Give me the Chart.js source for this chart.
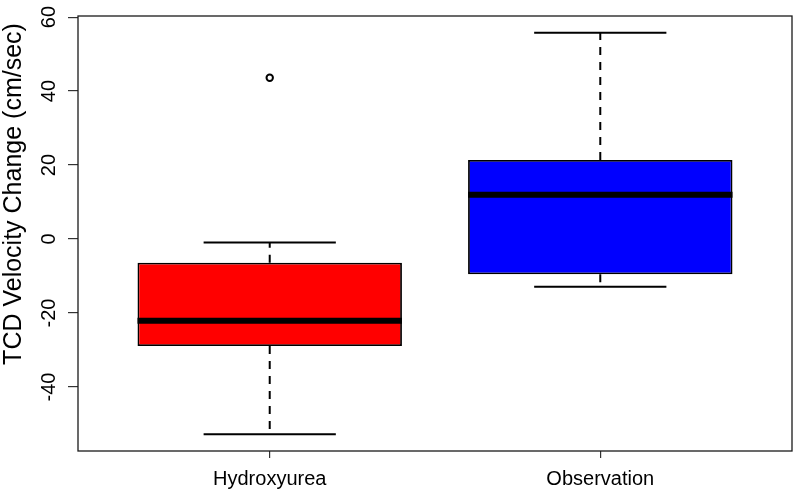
<!DOCTYPE html>
<html>
<head>
<meta charset="utf-8">
<script src="https://cdn.jsdelivr.net/npm/chart.js@4"></script>
<style>
  html, body { margin: 0; padding: 0; background: #fff; }
  #wrap { width: 800px; height: 499px; position: relative; }
</style>
</head>
<body>
<div id="wrap"><canvas id="boxChart"></canvas></div>
<script>
// box statistics
const groups = ['Hydroxyurea', 'Observation'];
const groupPos = [1, 2];
const whiskerLow = [-52.8, -12.9];
const q1 = [-28.9, -9.5];
const median = [-22.1, 12.0];
const q3 = [-6.4, 21.4];
const whiskerHigh = [-0.9, 55.8];
const boxColors = ['#ff0000', '#0000ff'];

const outlierGroup = [1];
const outlierValue = [43.6];

const yTicks = [-40, -20, 0, 20, 40, 60];
const yMin = -57.3, yMax = 60.3;
const xMin = 0.42, xMax = 2.58;
const yTitle = 'TCD Velocity Change (cm/sec)';

const FONT = '"Liberation Sans", Arial, Helvetica, sans-serif';
const capHalf = 0.2, boxHalf = 0.4;

// segments separated by null so one line dataset holds several pieces
function segments(list) {
    const out = [];
    list.forEach(([x0, y0, x1, y1]) => {
        out.push({x: x0, y: y0}, {x: x1, y: y1}, {x: x1, y: null});
    });
    return out;
}

const whiskerData = segments(groupPos.flatMap((g, i) => [
    [g, q3[i], g, whiskerHigh[i]],
    [g, q1[i], g, whiskerLow[i]]
]));
const capData = segments(groupPos.flatMap((g, i) => [
    [g - capHalf, whiskerHigh[i], g + capHalf, whiskerHigh[i]],
    [g - capHalf, whiskerLow[i], g + capHalf, whiskerLow[i]]
]));
const medianData = segments(groupPos.map((g, i) =>
    [g - boxHalf, median[i], g + boxHalf, median[i]]));

// plot frame and rotated y title, like R's box() and ylab
const framePlugin = {
    id: 'frame',
    afterDraw(chart) {
        const {ctx, chartArea: a} = chart;
        ctx.save();
        ctx.strokeStyle = '#1a1a1a';
        ctx.lineWidth = 1.3;
        ctx.strokeRect(a.left, a.top, a.right - a.left, a.bottom - a.top);
        ctx.translate(14, 194);
        ctx.rotate(-Math.PI / 2);
        ctx.fillStyle = '#000';
        ctx.font = '25px ' + FONT;
        ctx.textAlign = 'center';
        ctx.textBaseline = 'middle';
        ctx.fillText(yTitle, 0, 0);
        ctx.restore();
    }
};

const ctx = document.getElementById('boxChart').getContext('2d');
new Chart(ctx, {
    type: 'bar',
    data: {
        datasets: [
            {
                type: 'bar',
                data: groupPos.map((g, i) => ({x: g, y: [q1[i], q3[i]]})),
                backgroundColor: boxColors,
                borderColor: '#000',
                borderWidth: 1.8,
                borderSkipped: false,
                barPercentage: 0.8,
                categoryPercentage: 1.0,
                order: 3
            },
            {
                type: 'line',
                data: whiskerData,
                borderColor: '#000',
                borderWidth: 2,
                borderDash: [8, 7],
                pointRadius: 0,
                spanGaps: false,
                order: 4
            },
            {
                type: 'line',
                data: capData,
                borderColor: '#000',
                borderWidth: 2,
                pointRadius: 0,
                spanGaps: false,
                order: 2
            },
            {
                type: 'line',
                data: medianData,
                borderColor: '#000',
                borderWidth: 6,
                borderCapStyle: 'butt',
                pointRadius: 0,
                spanGaps: false,
                order: 1
            },
            {
                type: 'scatter',
                data: outlierGroup.map((g, i) => ({x: g, y: outlierValue[i]})),
                pointStyle: 'circle',
                pointRadius: 3.2,
                borderWidth: 2,
                borderColor: '#000',
                backgroundColor: '#fff',
                order: 0
            }
        ]
    },
    options: {
        responsive: true,
        maintainAspectRatio: false,
        animation: false,
        layout: { padding: { top: 16, right: 8, left: 0, bottom: 0 } },
        plugins: {
            legend: { display: false },
            tooltip: { enabled: false }
        },
        scales: {
            x: {
                type: 'linear',
                min: xMin,
                max: xMax,
                offset: false,
                afterBuildTicks: scale => {
                    scale.ticks = groupPos.map(v => ({value: v}));
                },
                afterFit: scale => { scale.height = 48; },
                border: { display: false },
                grid: {
                    offset: false,
                    drawOnChartArea: false,
                    drawTicks: true,
                    tickLength: 7,
                    color: '#333',
                    lineWidth: 1.2
                },
                ticks: {
                    color: '#000',
                    font: { family: FONT, size: 20 },
                    padding: 9,
                    maxRotation: 0,
                    callback: v => groups[groupPos.indexOf(v)]
                }
            },
            y: {
                type: 'linear',
                min: yMin,
                max: yMax,
                afterBuildTicks: scale => {
                    scale.ticks = yTicks.map(v => ({value: v}));
                },
                afterFit: scale => { scale.width = 78; },
                border: { display: false },
                grid: {
                    drawOnChartArea: false,
                    drawTicks: true,
                    tickLength: 10,
                    color: '#333',
                    lineWidth: 1.2
                },
                ticks: {
                    color: '#000',
                    font: { family: FONT, size: 20 },
                    padding: 4,
                    minRotation: 90,
                    maxRotation: 90,
                    crossAlign: 'center'
                }
            }
        }
    },
    plugins: [framePlugin]
});
</script>
</body>
</html>
